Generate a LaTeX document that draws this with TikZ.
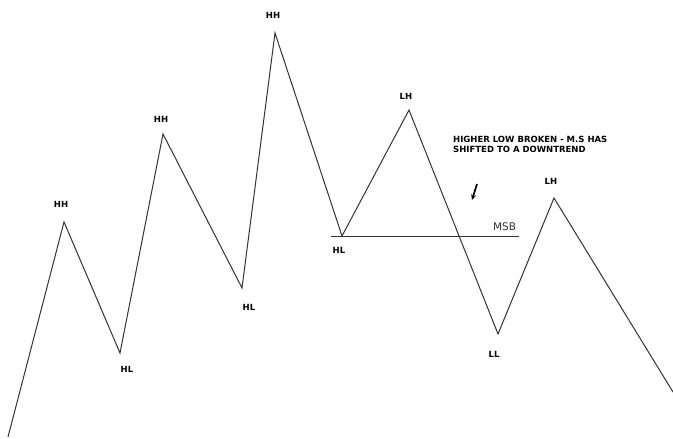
\documentclass[tikz,border=0pt]{standalone}
\usepackage{fontspec}
\setmainfont{DejaVu Sans}
\usetikzlibrary{arrows.meta}
\begin{document}
\begin{tikzpicture}[x=1pt,y=-1pt,
  lbl/.style={font=\fontsize{8.5}{10}\selectfont\bfseries,inner sep=0pt},
  zz/.style={draw=black!80,line width=1pt,line join=miter}]
  \useasboundingbox (0,0) rectangle (673,439);
  % swing points
  \coordinate (p0) at (8,437);
  \coordinate (hh1) at (64,222);
  \coordinate (hl1) at (120,353);
  \coordinate (hh2) at (163,134);
  \coordinate (hl2) at (242,288);
  \coordinate (hh3) at (275,33);
  \coordinate (hl3) at (342,236);
  \coordinate (lh1) at (409,110);
  \coordinate (ll) at (498,334);
  \coordinate (lh2) at (554,198);
  \coordinate (p1) at (673,392);
  \draw[zz] (p0) -- (hh1) -- (hl1) -- (hh2) -- (hl2) -- (hh3) -- (hl3) -- (lh1) -- (ll) -- (lh2) -- (p1);
  % labels
  \node[lbl] (thh1) at (61,204) {HH};
  \node[lbl] (thl1) at (127,369) {HL};
  \node[lbl] (thh2) at (161,119) {HH};
  \node[lbl] (thl2) at (249,307) {HL};
  \node[lbl] (thh3) at (273,15) {HH};
  \node[lbl] (thl3) at (339,250) {HL};
  \node[lbl] (tlh1) at (406,96) {LH};
  \node[lbl] (tll) at (494,354) {LL};
  \node[lbl] (tlh2) at (551,181) {LH};
  % market structure break
  \coordinate (msba) at (331,236);
  \coordinate (msbb) at (519,236);
  \draw[zz] (msba) -- (msbb);
  \node[font=\fontsize{10.5}{12}\selectfont,text=black!80,inner sep=0pt] (msb) at (504.5,226.5) {MSB};
  \node[lbl,anchor=north west,align=left] (note) at (453,136) {HIGHER LOW BROKEN - M.S HAS\\SHIFTED TO A DOWNTREND};
  \coordinate (arra) at (477,184);
  \coordinate (arrb) at (472,200);
  \draw[-{Stealth[length=5.5pt,width=5pt]},line width=1.7pt] (arra) -- (arrb);
\end{tikzpicture}
\end{document}
